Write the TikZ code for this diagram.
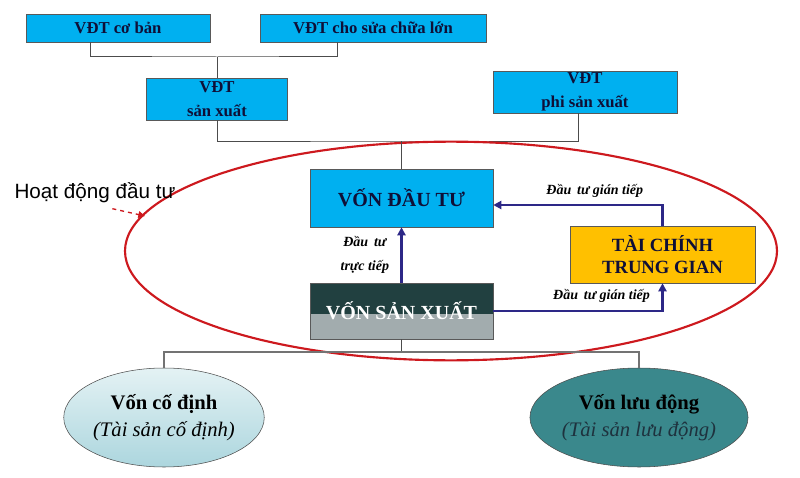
\documentclass[tikz,border=0pt]{standalone}
\usepackage{fontspec}
\setmainfont{Liberation Serif}
\newfontfamily\hdfont{Liberation Sans}
\usetikzlibrary{arrows.meta,shapes.geometric}
\definecolor{boxblue}{RGB}{0,176,240}
\definecolor{boxgold}{RGB}{255,192,0}
\definecolor{vsxdark}{RGB}{33,64,64}
\definecolor{vsxgray}{RGB}{162,172,174}
\definecolor{flownavy}{RGB}{45,40,135}
\definecolor{ovalred}{RGB}{205,25,30}
\definecolor{navytext}{RGB}{15,15,55}
\definecolor{cdtop}{RGB}{228,242,244}
\definecolor{cdbot}{RGB}{172,214,222}
\definecolor{ldteal}{RGB}{58,136,140}
\definecolor{ldtext}{RGB}{30,50,62}
\tikzset{
  vdtbox/.style={draw=black!65, fill=boxblue, text=navytext, align=center, inner sep=0pt,
    font=\fontsize{12.5}{18}\selectfont\bfseries},
  bigbox/.style={draw=black!65, align=center, inner sep=0pt, minimum width=137.25pt,
    font=\fontsize{14}{16.5}\selectfont\bfseries},
  vonoval/.style={ellipse, draw=black!70, align=center, inner sep=0pt, minimum height=74.25pt,
    font=\fontsize{15.5}{20}\selectfont},
  conn/.style={draw=black!70, line width=0.75pt},
  flow/.style={draw=flownavy, line width=2pt, -{Triangle[length=6pt,width=6pt]}},
  flowlabel/.style={font=\fontsize{10.5}{18}\selectfont\bfseries\itshape, align=center}
}
\begin{document}
\begin{tikzpicture}[x=0.75pt,y=-0.75pt]
   \useasboundingbox (0,0) rectangle (800,478);

   % Top boxes
   \node[vdtbox, minimum width=138pt, minimum height=21pt] (cb) at (118,28) {VĐT cơ bản};
   \node[vdtbox, minimum width=169.5pt, minimum height=21pt] (scl) at (373,28) {VĐT cho sửa chữa lớn};
   \node[vdtbox, minimum width=105.75pt, minimum height=31.5pt] (sx) at (217,99) {VĐT\\sản xuất};
   \node[vdtbox, minimum width=138pt, minimum height=31.5pt] (psx) at (585,92) {VĐT\\phi sản xuất};

   % Tree lines
   \coordinate (j1) at (217,57);
   \coordinate (j2) at (401.5,141);
   \draw[conn] ([xshift=-21pt]cb.south) |- (j1) -| ([xshift=-27pt]scl.south);
   \draw[conn] (j1) -- (sx.north);
   \draw[conn] (sx.south) |- (j2) -| ([xshift=-5pt]psx.south);

   % Investment activity
   \draw[ovalred, line width=1.6pt] (451,251) ellipse [x radius=244.5pt, y radius=82pt];
   \node[font=\hdfont\fontsize{15.5}{18}\selectfont, inner sep=0pt] (hd) at (95,193) {Hoạt động đầu tư};
   \coordinate (hdtip) at (145,216);
   \draw[ovalred, line width=1pt, dashed, -{Triangle[length=5pt,width=5pt]}] ([xshift=13pt,yshift=-4pt]hd.south) -- (hdtip);

   \node[bigbox, fill=boxblue, text=navytext, minimum height=43.5pt, font=\fontsize{15}{17}\selectfont\bfseries] (vdt) at (401.5,198) {VỐN ĐẦU TƯ};
   \node[bigbox, fill=boxgold, text=navytext, minimum width=138.75pt, minimum height=42.75pt] (tctg) at (662.5,254.5) {TÀI CHÍNH\\TRUNG GIAN};
   \node[bigbox, fill=vsxdark, text=white, minimum height=42pt, font=\fontsize{15}{17}\selectfont\bfseries,
     path picture={\fill[vsxgray] ([yshift=-2.25pt]path picture bounding box.west) rectangle (path picture bounding box.south east);}]
     (vsx) at (401.5,311) {VỐN SẢN XUẤT};
   \draw[conn] (j2) -- (vdt.north);

   % Flows
   \draw[flow] (vsx.north) -- node[flowlabel, left=5pt] {Đầu\, tư\\trực tiếp} (vdt.south);
   \draw[flow] (vsx.east) -| node[flowlabel, above=2pt, pos=0.32] {Đầu\, tư gián tiếp} (tctg.south);
   \draw[flow] (tctg.north) |- node[flowlabel, above=1pt, pos=0.7] {Đầu\, tư gián tiếp} ([yshift=-5.25pt]vdt.east);

   % Bottom ovals
   \node[vonoval, top color=cdtop, bottom color=cdbot, minimum width=132.75pt] (vcd) at (164,417.5)
     {\bfseries Vốn cố định\\\itshape (Tài sản cố định)};
   \node[vonoval, fill=ldteal, minimum width=154.5pt] (vld) at (639,417.5)
     {\bfseries Vốn lưu động\\\color{ldtext}\itshape (Tài sản lưu động)};
   \coordinate (j3) at (401.5,352);
   \draw[conn] (vsx.south) -- (j3);
   \draw[conn, draw=black!55, line width=1.5pt] (vcd.north) |- (j3) -| (vld.north);
\end{tikzpicture}
\end{document}
